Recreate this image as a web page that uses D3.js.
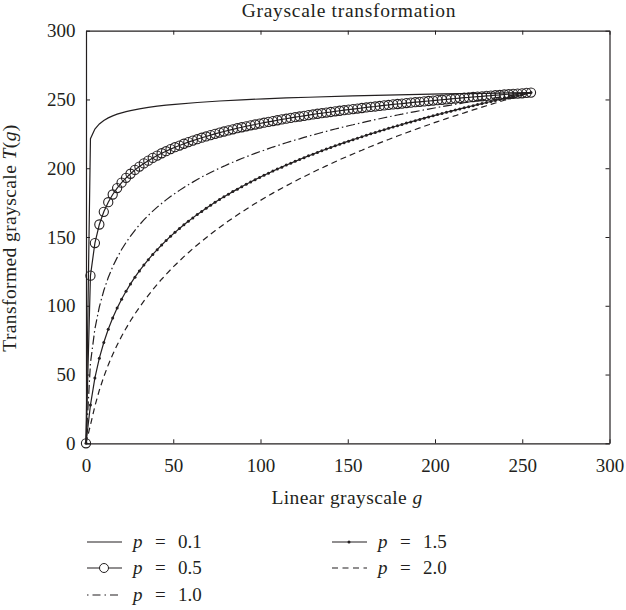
<!DOCTYPE html>
<html>
<head>
<meta charset="utf-8">
<script src="https://cdn.jsdelivr.net/npm/d3@7"></script>
<style>
  html, body { margin: 0; padding: 0; background: #fff; }
  svg { display: block; }
  text { font-family: "Liberation Serif", "Times New Roman", serif; fill: #231f20; }
</style>
</head>
<body>
<svg id="chart" width="626" height="610"></svg>
<script>
// ---------------- data ----------------
const xTicks = [0, 50, 100, 150, 200, 250, 300];
const yTicks = [0, 50, 100, 150, 200, 250, 300];

const gSamples = [0,2.55,5.1,7.65,10.2,12.75,15.3,17.85,20.4,22.95,
25.5,28.05,30.6,33.15,35.7,38.25,40.8,43.35,45.9,48.45,
51,53.55,56.1,58.65,61.2,63.75,66.3,68.85,71.4,73.95,
76.5,79.05,81.6,84.15,86.7,89.25,91.8,94.35,96.9,99.45,
102,104.55,107.1,109.65,112.2,114.75,117.3,119.85,122.4,124.95,
127.5,130.05,132.6,135.15,137.7,140.25,142.8,145.35,147.9,150.45,
153,155.55,158.1,160.65,163.2,165.75,168.3,170.85,173.4,175.95,
178.5,181.05,183.6,186.15,188.7,191.25,193.8,196.35,198.9,201.45,
204,206.55,209.1,211.65,214.2,216.75,219.3,221.85,224.4,226.95,
229.5,232.05,234.6,237.15,239.7,242.25,244.8,247.35,249.9,252.45,255];

const gSparse = [0,2.55,5.1,7.65,10.2,12.75,15.3,17.85,20.4,22.95,25.5,30.6,35.7,40.8,45.9,51,63.75,76.5,89.25,102,114.75,127.5,153,178.5,204,229.5,255];
const T01 = [0,221.5,228.5,232.2,234.7,236.6,238.1,239.3,240.3,241.2,241.9,243.2,244.2,245.1,245.9,246.5,247.8,248.9,249.7,250.5,251.1,251.6,252.6,253.3,254.0,254.5,255];

const T05 = [0,121.9,145.6,159.1,168.3,175.3,180.9,185.6,189.5,193.0,
196.0,198.8,201.2,203.5,205.5,207.5,209.2,210.9,212.4,213.9,
215.3,216.5,217.8,219.0,220.1,221.1,222.2,223.1,224.1,225.0,
225.9,226.7,227.5,228.3,229.1,229.8,230.5,231.2,231.8,232.5,
233.1,233.7,234.3,234.9,235.5,236.0,236.6,237.1,237.6,238.1,
238.6,239.1,239.6,240.0,240.5,240.9,241.4,241.8,242.2,242.6,
243.0,243.4,243.8,244.2,244.6,244.9,245.3,245.7,246.0,246.4,
246.7,247.0,247.4,247.7,248.0,248.3,248.6,248.9,249.2,249.5,
249.8,250.1,250.4,250.7,251.0,251.3,251.5,251.8,252.1,252.3,
252.6,252.8,253.1,253.3,253.6,253.8,254.1,254.3,254.5,254.8,255];

const T10 = [0,58.3,83.2,99.2,111.1,120.5,128.4,135.0,140.9,146.0,
150.7,154.9,158.8,162.4,165.7,168.8,171.7,174.4,177.0,179.4,
181.7,183.9,186.0,188.0,189.9,191.8,193.6,195.3,196.9,198.5,
200.1,201.5,203.0,204.4,205.7,207.1,208.3,209.6,210.8,212.0,
213.1,214.3,215.4,216.4,217.5,218.5,219.5,220.5,221.4,222.4,
223.3,224.2,225.1,226.0,226.8,227.7,228.5,229.3,230.1,230.9,
231.6,232.4,233.1,233.9,234.6,235.3,236.0,236.7,237.4,238.0,
238.7,239.3,240.0,240.6,241.2,241.8,242.4,243.0,243.6,244.2,
244.8,245.4,245.9,246.5,247.0,247.6,248.1,248.6,249.1,249.7,
250.2,250.7,251.2,251.7,252.2,252.6,253.1,253.6,254.1,254.5,255];

const T15 = [0,27.8,47.5,61.9,73.3,82.9,91.1,98.3,104.7,110.5,
115.9,120.8,125.3,129.6,133.5,137.3,140.8,144.2,147.4,150.5,
153.4,156.2,158.9,161.4,163.9,166.3,168.6,170.9,173.0,175.2,
177.2,179.2,181.1,183.0,184.8,186.6,188.3,190.0,191.7,193.3,
194.9,196.4,197.9,199.4,200.8,202.3,203.6,205.0,206.4,207.7,
209.0,210.2,211.5,212.7,213.9,215.1,216.3,217.4,218.6,219.7,
220.8,221.8,222.9,224.0,225.0,226.0,227.0,228.0,229.0,230.0,
230.9,231.8,232.8,233.7,234.6,235.5,236.4,237.3,238.1,239.0,
239.8,240.7,241.5,242.3,243.1,243.9,244.7,245.5,246.3,247.0,
247.8,248.5,249.3,250.0,250.8,251.5,252.2,252.9,253.6,254.3,255];

const T20 = [0,13.3,27.1,38.6,48.4,57.0,64.6,71.5,77.8,83.6,
89.1,94.1,98.9,103.4,107.6,111.7,115.6,119.3,122.8,126.2,
129.5,132.6,135.7,138.6,141.5,144.2,146.9,149.5,152.1,154.5,
156.9,159.3,161.6,163.8,166.0,168.1,170.2,172.3,174.3,176.2,
178.1,180.0,181.9,183.7,185.5,187.2,188.9,190.6,192.3,193.9,
195.5,197.1,198.7,200.2,201.7,203.2,204.7,206.2,207.6,209.0,
210.4,211.8,213.1,214.5,215.8,217.1,218.4,219.7,220.9,222.2,
223.4,224.6,225.8,227.0,228.2,229.3,230.5,231.6,232.8,233.9,
235.0,236.1,237.2,238.2,239.3,240.3,241.4,242.4,243.4,244.4,
245.4,246.4,247.4,248.4,249.4,250.3,251.3,252.2,253.1,254.1,255];

const seriesLabels = ["0.1", "0.5", "1.0", "1.5", "2.0"];

// ---------------- drawing ----------------
const ink = "#231f20";
const svg = d3.select("#chart");
const x = d3.scaleLinear().domain([0, 300]).range([86, 609.5]);
const y = d3.scaleLinear().domain([0, 300]).range([443.3, 30.7]);

const series = [
  { label: seriesLabels[0], g: gSparse, t: T01, dash: null, marker: null },
  { label: seriesLabels[1], g: gSamples, t: T05, dash: null, marker: "circle" },
  { label: seriesLabels[2], g: gSamples, t: T10, dash: "9,3,1.5,3", marker: null },
  { label: seriesLabels[3], g: gSamples, t: T15, dash: null, marker: "dot" },
  { label: seriesLabels[4], g: gSamples, t: T20, dash: "6,4", marker: null }
];

const line = d3.line().x(d => x(d[0])).y(d => y(d[1]));

const plot = svg.append("g");
series.forEach(s => {
  const pts = s.g.map((g, i) => [g, s.t[i]]);
  plot.append("path")
    .attr("d", line(pts))
    .attr("fill", "none")
    .attr("stroke", ink)
    .attr("stroke-width", 1.2)
    .attr("stroke-dasharray", s.dash);
  if (s.marker === "circle") {
    plot.selectAll(null).data(pts).enter().append("circle")
      .attr("cx", d => x(d[0])).attr("cy", d => y(d[1]))
      .attr("r", 4.6).attr("fill", "none")
      .attr("stroke", ink).attr("stroke-width", 1.1);
  } else if (s.marker === "dot") {
    plot.selectAll(null).data(pts).enter().append("circle")
      .attr("cx", d => x(d[0])).attr("cy", d => y(d[1]))
      .attr("r", 1.5).attr("fill", ink);
  }
});

// axes
const tickFont = 19;
function styleAxis(g) {
  g.selectAll("path.domain").attr("stroke", ink).attr("stroke-width", 1.2);
  g.selectAll(".tick line").attr("stroke", ink).attr("stroke-width", 1);
  g.selectAll(".tick text").attr("fill", ink)
    .style("font-family", '"Liberation Serif", serif').style("font-size", tickFont + "px");
}
svg.append("g").attr("transform", `translate(0,${y(0)})`)
  .call(d3.axisBottom(x).tickValues(xTicks).tickSizeInner(-4).tickSizeOuter(0).tickPadding(15).tickFormat(d3.format("d")))
  .call(styleAxis);
svg.append("g").attr("transform", `translate(${x(0)},0)`)
  .call(d3.axisLeft(y).tickValues(yTicks).tickSizeInner(-4).tickSizeOuter(0).tickPadding(10.5).tickFormat(d3.format("d")))
  .call(styleAxis);
svg.append("g").attr("transform", `translate(0,${y(300)})`)
  .call(d3.axisTop(x).tickValues(xTicks).tickSizeInner(-4).tickSizeOuter(0).tickFormat(""))
  .call(styleAxis);
svg.append("g").attr("transform", `translate(${x(300)},0)`)
  .call(d3.axisRight(y).tickValues(yTicks).tickSizeInner(-4).tickSizeOuter(0).tickFormat(""))
  .call(styleAxis);

// title and axis labels
const labelStyle = sel => sel.style("font-size", "19.5px").style("letter-spacing", "0.4px");
svg.append("text").attr("x", 349).attr("y", 17)
  .attr("text-anchor", "middle").call(labelStyle).style("letter-spacing", "0.7px")
  .text("Grayscale transformation");

const xl = svg.append("text").attr("x", 347).attr("y", 504)
  .attr("text-anchor", "middle").call(labelStyle);
xl.append("tspan").text("Linear grayscale ");
xl.append("tspan").style("font-style", "italic").text("g");

const yl = svg.append("text").attr("transform", "translate(16,238) rotate(-90)")
  .attr("text-anchor", "middle").call(labelStyle);
yl.append("tspan").text("Transformed grayscale ");
yl.append("tspan").style("font-style", "italic").text("T");
yl.append("tspan").text("(");
yl.append("tspan").style("font-style", "italic").text("g");
yl.append("tspan").text(")");

// legend
const legendPos = [
  { lx: 87, ly: 542 }, { lx: 87, ly: 568 }, { lx: 87, ly: 595 },
  { lx: 332, ly: 542 }, { lx: 332, ly: 568 }
];
series.forEach((s, i) => {
  const p = legendPos[i];
  const lg = svg.append("g").attr("transform", `translate(${p.lx},${p.ly})`);
  lg.append("line").attr("x1", 0).attr("x2", 35).attr("y1", 0).attr("y2", 0)
    .attr("stroke", ink).attr("stroke-width", 1.1)
    .attr("stroke-dasharray", s.dash ? (s.dash === "6,4" ? "6,4.5" : "1.5,4,8,4") : null);
  if (s.marker === "circle") {
    lg.append("circle").attr("cx", 17).attr("cy", 0).attr("r", 4.5)
      .attr("fill", "#fff").attr("stroke", ink).attr("stroke-width", 1);
  } else if (s.marker === "dot") {
    lg.append("circle").attr("cx", 17).attr("cy", 0).attr("r", 1.5).attr("fill", ink);
  }
  const t = lg.append("text").attr("y", 6).style("font-size", "19px");
  t.append("tspan").attr("x", 46).style("font-style", "italic").text("p");
  t.append("tspan").attr("x", 68).text("=");
  t.append("tspan").attr("x", 91).text(s.label);
});
</script>
</body>
</html>
